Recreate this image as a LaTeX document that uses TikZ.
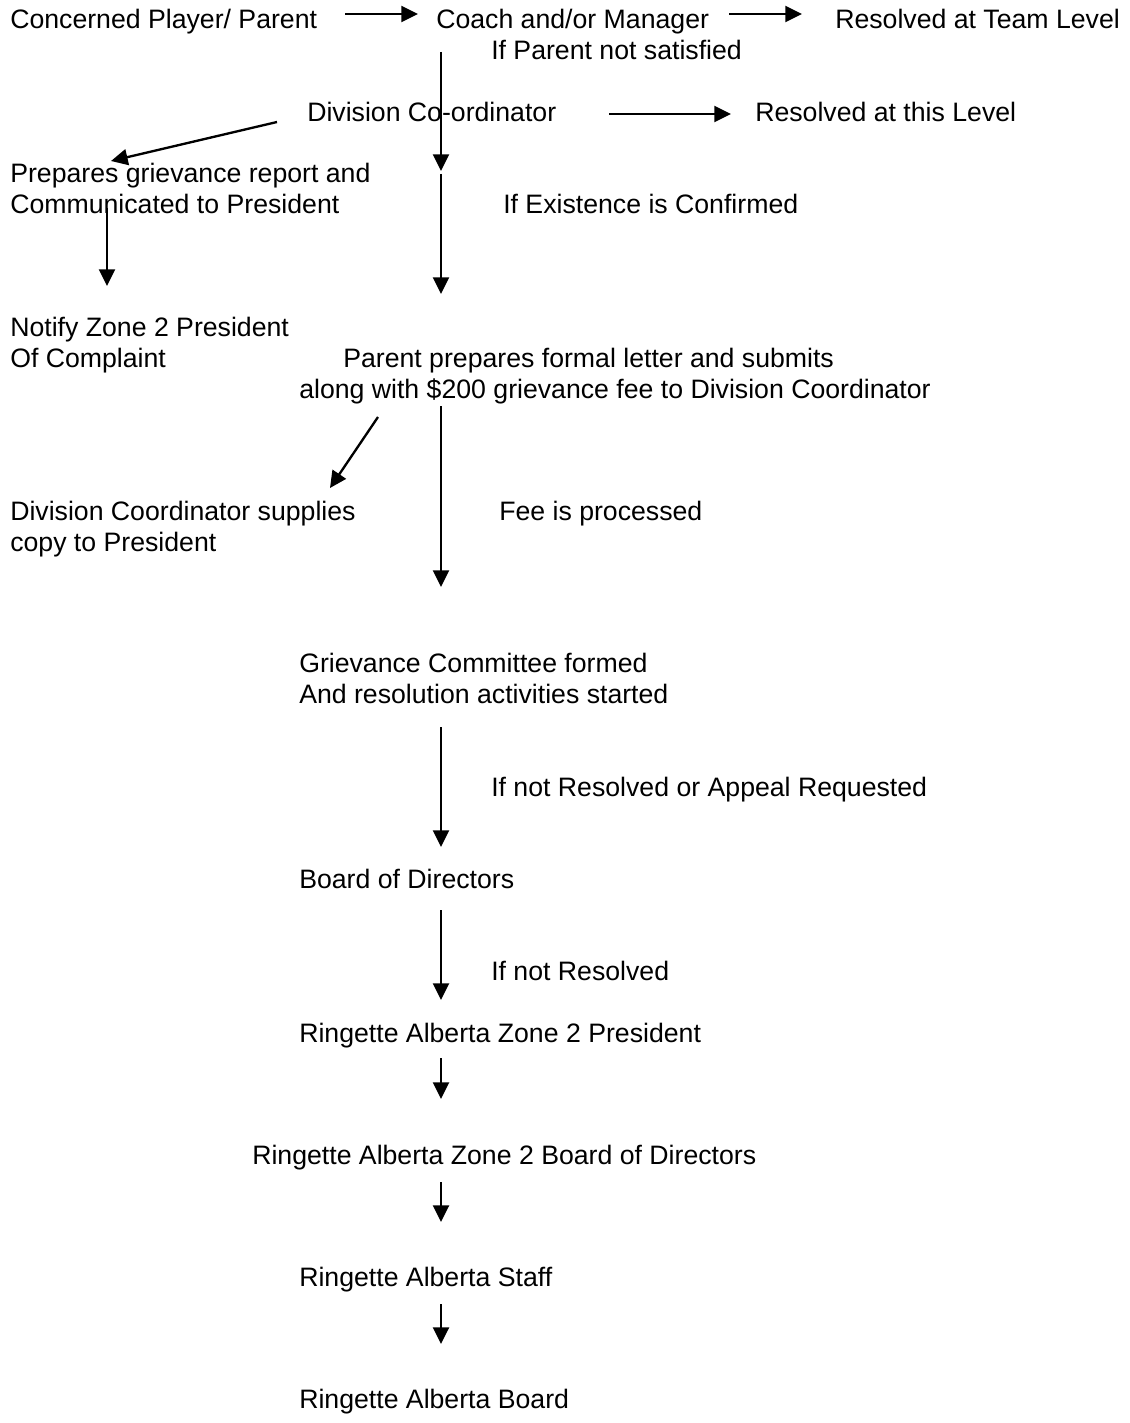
\documentclass[tikz,border=0pt]{standalone}
\usepackage{fontspec}
\setmainfont{Liberation Sans}
\usetikzlibrary{arrows.meta}

\begin{document}
\begin{tikzpicture}[x=0.75pt, y=-0.75pt,
  every node/.style = {anchor=base west, inner sep=0, align=left,
    font=\fontsize{20}{23.25}\selectfont},
  flow/.style = {line width=1.75pt, -{Triangle[length=12.5pt, width=12pt]}}]
  \useasboundingbox (0,0) rectangle (1130,1423);
  % steps and labels (y is the baseline of the last line)
  \node (player) at (10,29) {Concerned Player/ Parent};
  \node (coach) at (436,29) {Coach and/or Manager};
  \node (teamlvl) at (835,29) {Resolved at Team Level};
  \node (notsat) at (491,60) {If Parent not satisfied};
  \node (divco) at (307,122) {Division Co-ordinator};
  \node (thislvl) at (755,122) {Resolved at this Level};
  \node (report) at (10,214) {Prepares grievance report and\\Communicated to President};
  \node (exists) at (503,214) {If Existence is Confirmed};
  \node (notify) at (10,367) {Notify Zone 2 President\\Of Complaint};
  \node (letter) at (299,398) {\hspace*{33pt}Parent prepares formal letter and submits\\along with \$200 grievance fee to Division Coordinator};
  \node (copy) at (10,551) {Division Coordinator supplies\\copy to President};
  \node (fee) at (499,520) {Fee is processed};
  \node (committee) at (299,703) {Grievance Committee formed\\And resolution activities started};
  \node (appeal) at (491,796) {If not Resolved or Appeal Requested};
  \node (board) at (299,888) {Board of Directors};
  \node (notres) at (491,980) {If not Resolved};
  \node (zonepres) at (299,1042) {Ringette Alberta Zone 2 President};
  \node (zoneboard) at (252,1164) {Ringette Alberta Zone 2 Board of Directors};
  \node (rastaff) at (299,1286) {Ringette Alberta Staff};
  \node (raboard) at (299,1408) {Ringette Alberta Board};
  % arrow ends
  \coordinate (a1) at (345,14);  \coordinate (a2) at (418,14);
  \coordinate (b1) at (729,14);  \coordinate (b2) at (802,14);
  \coordinate (c1) at (609,114); \coordinate (c2) at (731,114);
  \coordinate (d1) at (441,52);  \coordinate (d2) at (441,171);
  \coordinate (e1) at (441,174); \coordinate (e2) at (441,294);
  \coordinate (f1) at (277,122); \coordinate (f2) at (111,161);
  \coordinate (g1) at (107,208); \coordinate (g2) at (107,286);
  \coordinate (h1) at (378,417); \coordinate (h2) at (330,488);
  \coordinate (i1) at (441,406); \coordinate (i2) at (441,587);
  \coordinate (j1) at (441,727); \coordinate (j2) at (441,847);
  \coordinate (k1) at (441,910); \coordinate (k2) at (441,1000);
  \coordinate (l1) at (441,1058); \coordinate (l2) at (441,1099);
  \coordinate (m1) at (441,1182); \coordinate (m2) at (441,1222);
  \coordinate (n1) at (441,1304); \coordinate (n2) at (441,1344);
  % arrows
  \foreach \s in {a,b,c,d,e,f,g,h,i,j,k,l,m,n}
    \draw[flow] (\s1) -- (\s2);
\end{tikzpicture}
\end{document}
